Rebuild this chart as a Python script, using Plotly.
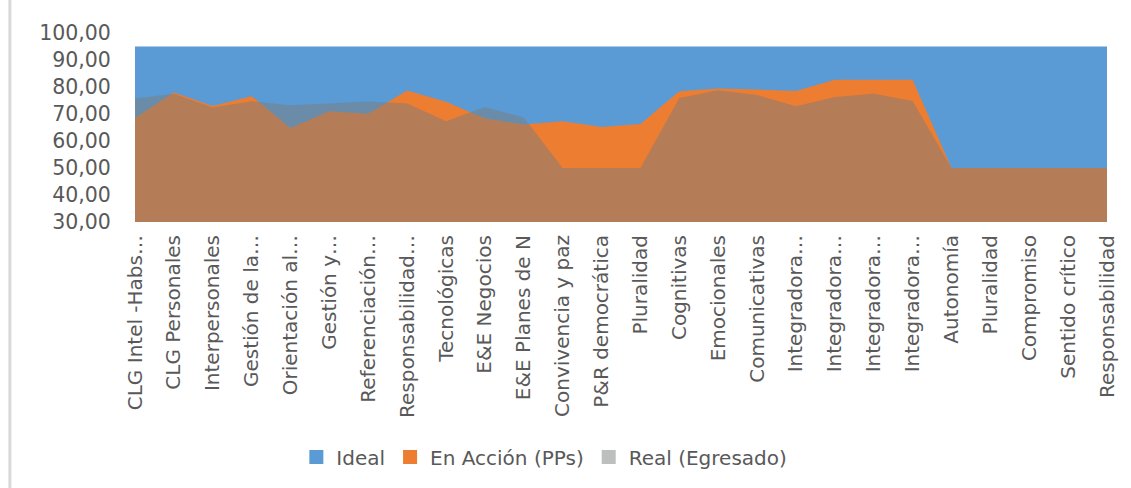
import plotly.graph_objects as go

# Competency categories along the x axis
categories = [
    "CLG Intel -Habs…", "CLG Personales", "Interpersonales", "Gestión de la…",
    "Orientación al…", "Gestión y…", "Referenciación…", "Responsabilidad…",
    "Tecnológicas", "E&E Negocios", "E&E Planes de N", "Convivencia y paz",
    "P&R democrática", "Pluralidad", "Cognitivas", "Emocionales",
    "Comunicativas", "Integradora…", "Integradora…", "Integradora…",
    "Integradora…", "Autonomía", "Pluralidad", "Compromiso",
    "Sentido crítico", "Responsabilidad",
]

ideal = [95.0] * 26
en_accion = [68.5, 78.0, 73.0, 76.6, 64.8, 71.0, 70.1, 78.7, 74.5, 68.3,
             66.1, 67.3, 65.2, 66.3, 78.4, 79.4, 79.1, 78.5, 82.7, 82.7,
             82.7, 50.0, 50.0, 50.0, 50.0, 50.0]
real_egresado = [75.7, 77.5, 72.4, 74.7, 73.2, 74.0, 74.6, 73.9, 67.3, 72.6,
                 68.7, 50.0, 50.0, 50.0, 75.9, 78.8, 77.0, 72.9, 76.3, 77.5,
                 74.8, 50.0, 50.0, 50.0, 50.0, 50.0]

y_ticks = [30, 40, 50, 60, 70, 80, 90, 100]

BLUE = "#5B9BD5"
ORANGE = "#ED7D31"
GRAY = "rgba(124,125,126,0.5)"
TEXT = "#595959"
FONT = "DejaVu Sans"

x = list(range(len(categories)))

fig = go.Figure()
series = [
    ("Ideal", ideal, BLUE),
    ("En Acción (PPs)", en_accion, ORANGE),
    ("Real (Egresado)", real_egresado, GRAY),
]
for name, values, color in series:
    fig.add_trace(go.Scatter(
        x=x, y=values, mode="lines", line=dict(width=0, color=color),
        fill="tozeroy", fillcolor=color, name=name, showlegend=False,
        hoverinfo="skip",
    ))
    # square swatch for the legend
    fig.add_trace(go.Scatter(
        x=[None], y=[None], mode="markers", name=name,
        marker=dict(symbol="square", size=14, color=color),
    ))

fig.update_layout(
    width=1131, height=488,
    margin=dict(l=135, r=21, t=33, b=266),
    paper_bgcolor="white", plot_bgcolor="white",
    separators=", ",
    font=dict(family=FONT, color=TEXT, size=20),
    legend=dict(
        orientation="h", x=0.166, xanchor="left", y=-1.243, yanchor="middle",
        font=dict(family=FONT, size=20, color=TEXT),
        itemwidth=30, traceorder="normal",
    ),
    shapes=[dict(
        type="line", xref="paper", yref="paper",
        x0=-0.1287, x1=-0.1287, y0=1.18, y1=-1.41,
        line=dict(color="#D9D9D9", width=3),
    )],
)

fig.update_xaxes(
    range=[0, len(categories) - 1], tickmode="array",
    tickvals=x, ticktext=categories, tickangle=-90,
    tickfont=dict(family=FONT, size=20, color=TEXT),
    showgrid=False, zeroline=False, showline=False,
    ticks="outside", ticklen=4, tickcolor="rgba(0,0,0,0)",
)
fig.update_yaxes(
    range=[30, 100], tickmode="array", tickvals=y_ticks, tickformat=".2f",
    tickfont=dict(family=FONT, size=20.5, color=TEXT),
    showgrid=True, gridcolor="#D9D9D9", gridwidth=1, zeroline=False,
    ticks="outside", ticklen=19, tickcolor="rgba(0,0,0,0)",
)

fig.write_html("out.html")
